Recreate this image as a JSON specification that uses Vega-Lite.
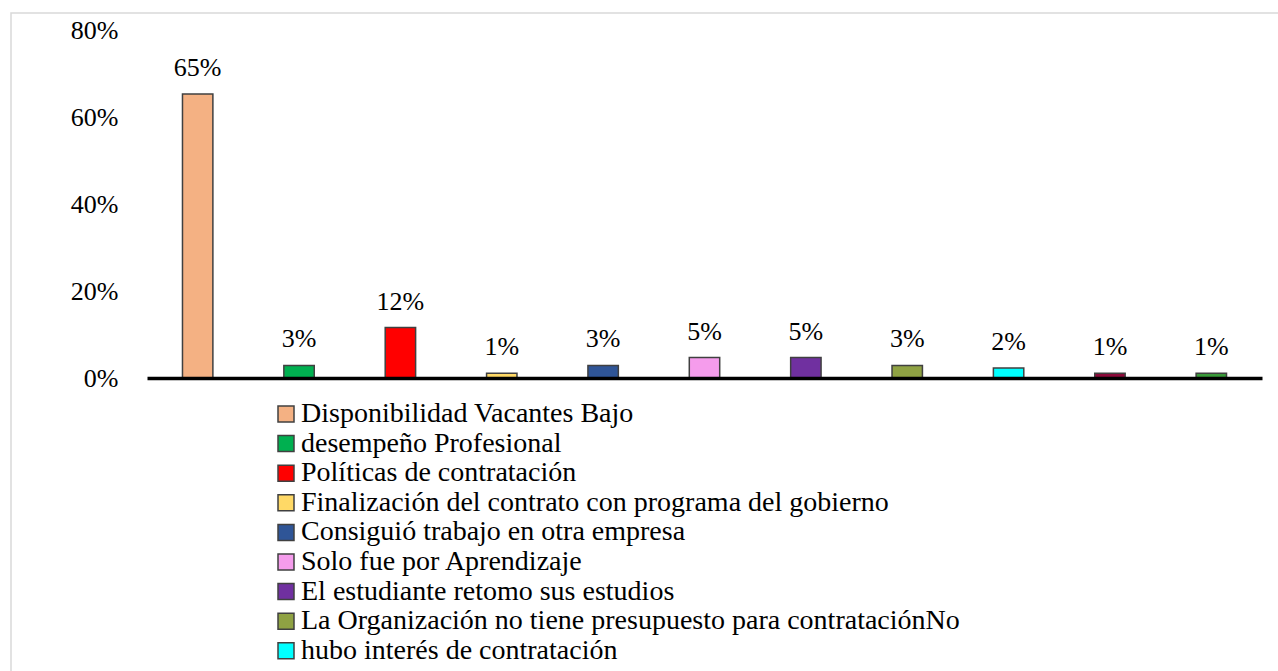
{
  "$schema": "https://vega.github.io/schema/vega-lite/v6.json",
  "width": 1268,
  "height": 662,
  "autosize": {"type": "none"},
  "padding": {"left": 11, "top": 13, "right": 0, "bottom": 0},
  "background": "white",
  "config": {
    "view": {"stroke": "#d9d9d9", "strokeWidth": 1.5},
    "font": "'Liberation Serif', 'Times New Roman', Times, serif"
  },
  "data": {
    "values": [
      {"cat": "Disponibilidad Vacantes Bajo", "pct": 0.653},
      {"cat": "desempeño Profesional", "pct": 0.029},
      {"cat": "Políticas de contratación", "pct": 0.116},
      {"cat": "Finalización del contrato con programa del gobierno", "pct": 0.011},
      {"cat": "Consiguió trabajo en otra empresa", "pct": 0.029},
      {"cat": "Solo fue por Aprendizaje", "pct": 0.047},
      {"cat": "El estudiante retomo sus estudios", "pct": 0.047},
      {"cat": "La Organización no tiene presupuesto para contrataciónNo", "pct": 0.029},
      {"cat": "hubo interés de contratación", "pct": 0.023},
      {"cat": "Otros motivos", "pct": 0.011},
      {"cat": "No responde", "pct": 0.011}
    ]
  },
  "encoding": {
    "x": {
      "field": "cat",
      "type": "nominal",
      "sort": null,
      "scale": {"range": [136, 1251], "paddingInner": 0.7, "paddingOuter": 0.35},
      "axis": {
        "title": null,
        "labels": false,
        "ticks": false,
        "grid": false,
        "domainColor": "black",
        "domainWidth": 3.5,
        "offset": -297,
        "zindex": 1
      }
    },
    "y": {
      "field": "pct",
      "type": "quantitative",
      "scale": {"domain": [0, 0.8], "range": [365, 17], "nice": false, "zero": true},
      "axis": {
        "title": null,
        "values": [0, 0.2, 0.4, 0.6, 0.8],
        "format": ".0%",
        "domain": false,
        "ticks": false,
        "grid": false,
        "labelFont": "'Liberation Serif', 'Times New Roman', Times, serif",
        "labelFontSize": 26,
        "labelColor": "black",
        "labelPadding": 0,
        "offset": -107
      }
    }
  },
  "layer": [
    {
      "mark": {"type": "bar", "stroke": "#404040", "strokeWidth": 1.5},
      "encoding": {
        "color": {
          "field": "cat",
          "type": "nominal",
          "scale": {
            "domain": [
              "Disponibilidad Vacantes Bajo",
              "desempeño Profesional",
              "Políticas de contratación",
              "Finalización del contrato con programa del gobierno",
              "Consiguió trabajo en otra empresa",
              "Solo fue por Aprendizaje",
              "El estudiante retomo sus estudios",
              "La Organización no tiene presupuesto para contrataciónNo",
              "hubo interés de contratación",
              "Otros motivos",
              "No responde"
            ],
            "range": ["#F4B183", "#00B050", "#FF0000", "#FFD966", "#2F5597", "#F59CEC", "#7030A0", "#8FA243", "#00FFFF", "#8B0A3A", "#3A9A3A"]
          },
          "legend": {
            "orient": "none",
            "legendX": 261,
            "legendY": 387,
            "direction": "vertical",
            "title": null,
            "values": [
              "Disponibilidad Vacantes Bajo",
              "desempeño Profesional",
              "Políticas de contratación",
              "Finalización del contrato con programa del gobierno",
              "Consiguió trabajo en otra empresa",
              "Solo fue por Aprendizaje",
              "El estudiante retomo sus estudios",
              "La Organización no tiene presupuesto para contrataciónNo",
              "hubo interés de contratación"
            ],
            "symbolType": "square",
            "symbolSize": 256,
            "symbolStrokeColor": "#404040",
            "symbolStrokeWidth": 1.5,
            "symbolOpacity": 1,
            "labelFont": "'Liberation Serif', 'Times New Roman', Times, serif",
            "labelFontSize": 28,
            "labelColor": "black",
            "labelOffset": 1,
            "labelLimit": 0,
            "rowPadding": 1.6,
            "padding": 0
          }
        }
      }
    },
    {
      "mark": {"type": "text", "baseline": "alphabetic", "dy": -18, "fontSize": 26, "font": "'Liberation Serif', 'Times New Roman', Times, serif", "color": "black"},
      "encoding": {
        "text": {"field": "pct", "type": "quantitative", "format": ".0%"}
      }
    }
  ]
}
